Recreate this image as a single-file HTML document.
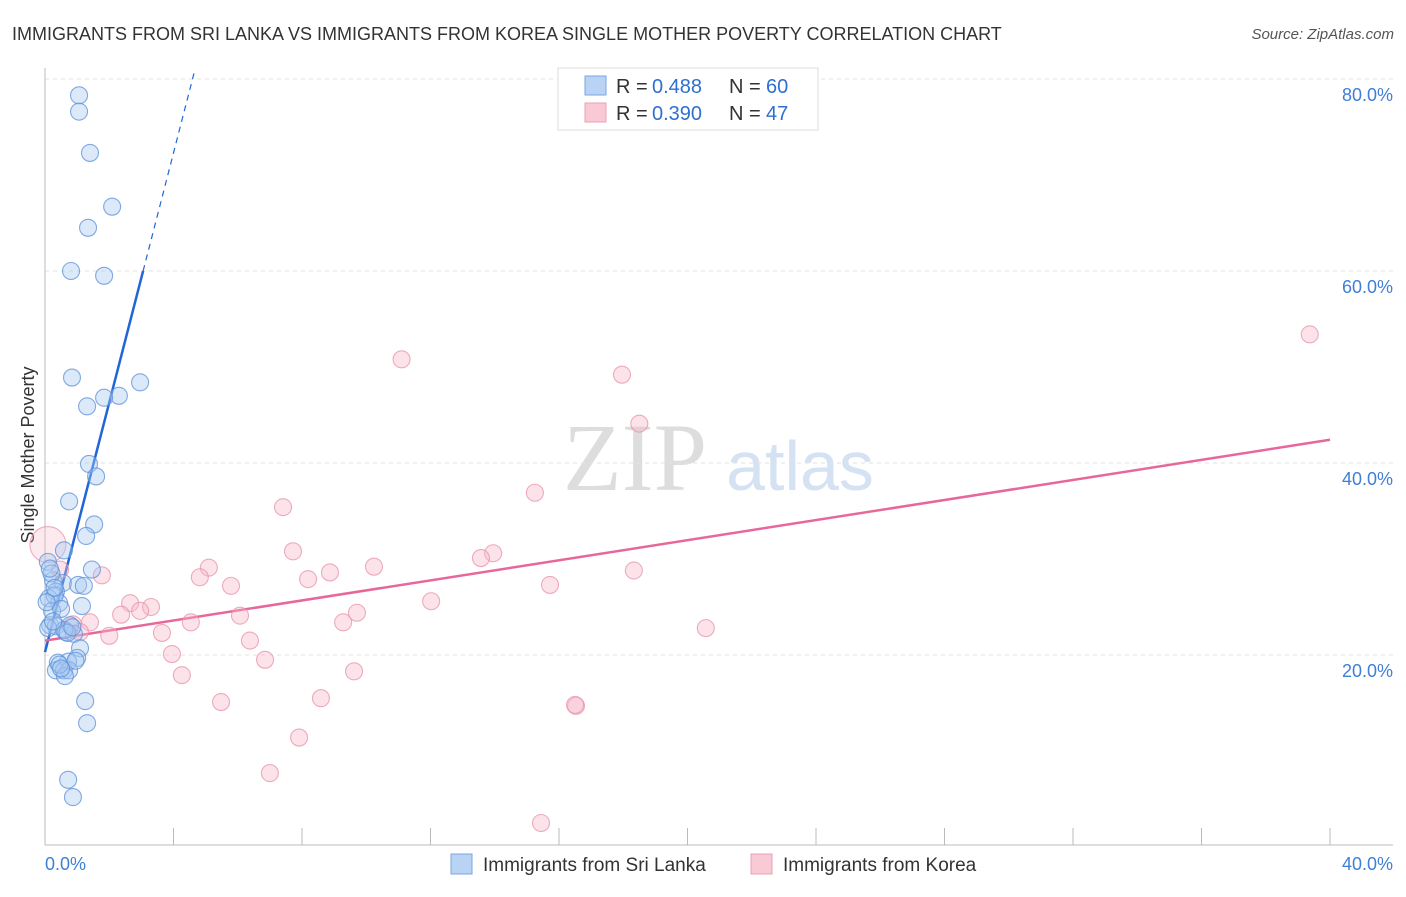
<!DOCTYPE html>
<html><head><meta charset="utf-8"><style>
body{margin:0;background:#fff;font-family:"Liberation Sans",sans-serif;}
</style></head><body>
<svg id="chart" width="1406" height="892" xmlns="http://www.w3.org/2000/svg" font-family="Liberation Sans, sans-serif">
<text x="12" y="40" font-size="18" fill="#333">IMMIGRANTS FROM SRI LANKA VS IMMIGRANTS FROM KOREA SINGLE MOTHER POVERTY CORRELATION CHART</text>
<text x="1394" y="39" font-size="15" fill="#555" text-anchor="end" font-style="italic">Source: ZipAtlas.com</text>
<text transform="translate(34,455) rotate(-90)" font-size="18" fill="#333" text-anchor="middle">Single Mother Poverty</text>
<g>
<text x="635" y="490" font-size="96" fill="#ddd" text-anchor="middle" font-family="Liberation Serif, serif">ZIP</text>
<text x="800" y="490" font-size="70" fill="#d4e2f3" text-anchor="middle">atlas</text>
</g>
<g id="grid"></g><g id="axes"></g><g id="lines"></g><g id="pts"></g>
<g>
<rect x="558" y="68" width="260" height="62" fill="#fff" stroke="#ddd"/>
<rect x="585" y="76" width="21" height="19" fill="#b9d3f5" stroke="#7aa6e0"/>
<rect x="585" y="103" width="21" height="19" fill="#f9c9d6" stroke="#eaa0b5"/>
<text x="616" y="93" font-size="20" fill="#333">R =</text>
<text x="652" y="93" font-size="20" fill="#2f6fd0">0.488</text>
<text x="729" y="93" font-size="20" fill="#333">N =</text>
<text x="766" y="93" font-size="20" fill="#2f6fd0">60</text>
<text x="616" y="120" font-size="20" fill="#333">R =</text>
<text x="652" y="120" font-size="20" fill="#2f6fd0">0.390</text>
<text x="729" y="120" font-size="20" fill="#333">N =</text>
<text x="766" y="120" font-size="20" fill="#2f6fd0">47</text>
</g>
<g>
<rect x="451" y="854" width="21" height="20" fill="#b9d3f5" stroke="#7aa6e0"/>
<text x="483" y="871" font-size="19" fill="#333">Immigrants from Sri Lanka</text>
<rect x="751" y="854" width="21" height="20" fill="#f9c9d6" stroke="#eaa0b5"/>
<text x="783" y="871" font-size="19" fill="#333">Immigrants from Korea</text>
</g>
</svg>
<script>
const blueX=[1.06,1.06,1.4,2.09,1.34,0.81,1.84,0.84,2.96,2.3,1.84,1.31,1.37,1.59,0.75,1.53,1.28,0.59,0.09,1.46,0.25,0.56,1.03,1.21,0.34,0.12,0.44,1.15,0.22,0.16,0.34,0.78,0.65,0.9,1.09,1.0,0.72,0.4,0.34,0.59,0.75,0.62,1.25,1.31,0.72,0.87,0.3,0.2,0.5,0.1,0.45,0.6,0.05,0.95,0.3,0.7,0.15,0.5,0.85,0.25];
const blueY=[78.3,76.6,72.3,66.7,64.5,60,59.5,48.9,48.4,47,46.8,45.9,39.9,38.6,36,33.6,32.4,30.9,29.7,28.9,27.8,27.5,27.3,27.2,26.6,25.9,25.4,25.1,24.6,23.1,23,23.1,22.4,22.2,20.7,19.7,19.3,19.2,18.4,18.4,18.4,17.8,15.2,12.9,7,5.2,26.2,28.5,24.8,22.8,19,22.6,25.5,19.4,27,22.3,29,18.6,22.9,23.5];
const pinkX=[39.37,11.1,17.96,18.5,15.25,7.41,0.09,7.72,13.95,13.57,5.1,10.24,18.33,8.87,1.77,4.82,8.19,5.79,15.72,12.02,2.65,3.3,2.96,2.37,6.07,9.71,1.4,4.54,9.28,0.87,20.57,1.09,3.64,2.0,6.38,3.95,6.85,4.26,9.62,8.59,5.48,16.53,7.91,7.0,15.44,0.47,16.5];
const pinkY=[53.4,50.8,49.2,44.1,36.9,35.4,31.5,30.8,30.6,30.1,29.1,29.2,28.8,28.6,28.3,28.1,27.9,27.2,27.3,25.6,25.4,25,24.6,24.2,24.1,24.4,23.4,23.4,23.4,23.2,22.8,22.4,22.3,22,21.5,20.1,19.5,17.9,18.3,15.5,15.1,14.7,11.4,7.7,2.5,28.9,14.8];
const yTicks=[20,40,60,80];
const xTickLabels=["0.0%","40.0%"];
const blueLine=[20.3,13.0];
const pinkLine=[21.5,0.523];
const X=v=>45+v*32.125, Y=v=>847-v*9.6;
const NS="http://www.w3.org/2000/svg";
function mk(p,t,a){const e=document.createElementNS(NS,t);for(const k in a)e.setAttribute(k,a[k]);document.getElementById(p).appendChild(e);return e;}
yTicks.forEach(t=>{
 const g=mk('grid','line',{x1:45,x2:1393,y1:Y(t),y2:Y(t),stroke:'#e2e2e2','stroke-dasharray':'4,4'});
 
 
 const l=mk('axes','text',{x:1393,y:Y(t)+22,'font-size':18,fill:'#3f7fd6','text-anchor':'end'});
 l.textContent=t.toFixed(1)+'%';
 
 
});
const ya=mk('axes','line',{x1:45,x2:45,y1:68,y2:845,stroke:'#bbb'});


const xa=mk('axes','line',{x1:45,x2:1393,y1:845,y2:845,stroke:'#bbb'});


for(let i=0;i<=10;i++){const t=mk('axes','line',{x1:X(i*4),x2:X(i*4),y1:828,y2:845,stroke:'#bbb'});
 
 }
[[0,'start',45],[40,'end',1393]].forEach((d,i)=>{const l=mk('axes','text',{x:d[2],y:870,'font-size':18,fill:'#3f7fd6','text-anchor':d[1]});l.textContent=xTickLabels[i];
 
 });
function pts(xs,ys,fill,stroke,name){xs.forEach((x,i)=>{const big=(name==='korea-point'&&i===6);const c=mk('pts','circle',{cx:X(x),cy:Y(ys[i]),r:big?18:8.5,fill:fill,'fill-opacity':big?0.3:0.4,stroke:stroke,'stroke-opacity':0.75,'stroke-width':1.1});
 
 });}
pts(pinkX,pinkY,'#f4b8c8','#e891aa','korea-point');
pts(blueX,blueY,'#a8c8f0','#5b8fd9','sri-lanka-point');
const xb=(60-blueLine[0])/blueLine[1], xe=(80-blueLine[0])/blueLine[1]+0.05;
const b1=mk('lines','line',{x1:X(0),y1:Y(blueLine[0]),x2:X(xb),y2:Y(60),stroke:'#2166d6','stroke-width':2.5});


const b2=mk('lines','line',{x1:X(xb),y1:Y(60),x2:X(xe),y2:Y(blueLine[0]+blueLine[1]*xe),stroke:'#2166d6','stroke-width':1.2,'stroke-dasharray':'6,5'});


const p1=mk('lines','line',{x1:X(0),y1:Y(pinkLine[0]),x2:X(40),y2:Y(pinkLine[0]+pinkLine[1]*40),stroke:'#e7679a','stroke-width':2.5});


</script>
</body></html>
